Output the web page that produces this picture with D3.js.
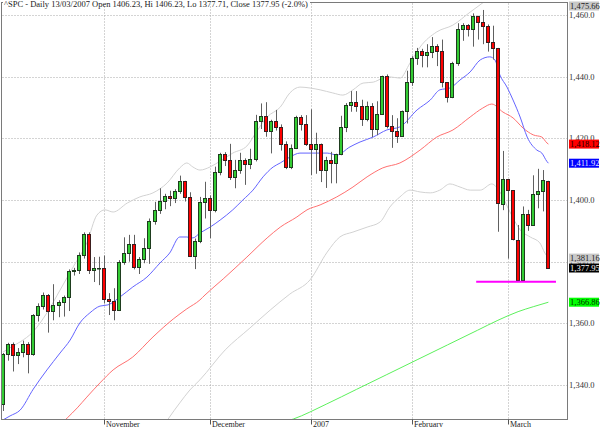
<!DOCTYPE html>
<html><head><meta charset="utf-8">
<script src="https://cdn.jsdelivr.net/npm/d3@7"></script>
<style>body{margin:0;background:#fff}svg{display:block}</style>
</head><body><svg id="c" width="600" height="427"></svg>
<script>
// ---- data ----
const title = "^SPC - Daily 13/03/2007 Open 1406.23, Hi 1406.23, Lo 1377.71, Close 1377.95 (-2.0%)";
const opens  = [1333.8,1350.2,1353.2,1349.6,1350.7,1353.4,1350.0,1362.8,1365.6,1369.1,1364.1,1365.8,1367.0,1368.6,1377.0,1377.4,1382.2,1389.1,1377.3,1377.93,
1377.9,1367.8,1367.3,1364.3,1379.8,1382.8,1385.7,1378.3,1380.9,1384.4,1393.2,1396.6,1399.8,1401.2,1400.5,1402.8,1406.1,1401.0,1382.0,1386.7,1399.5,
1400.6,1396.7,1409.1,1414.8,1412.9,1407.3,1409.8,1413.0,1411.6,1413.2,1425.5,1427.1,1422.5,1425.6,1423.5,1418.3,1410.8,1416.9,1426.8,1424.7,
1418.3,1416.6,1418.3,1409.7,1412.8,1412.1,1414.9,1423.8,1430.7,1431.9,1430.6,1426.4,1430.5,1423.0,1428.0,1440.1,1423.9,1422.2,1420.6,1428.8,
1438.2,1445.9,1448.4,1447.0,1448.0,1450.0,1448.3,1438.1,1433.4,1444.3,1455.3,1456.8,1455.5,1459.7,1457.6,1456.4,1451.2,1449.3,1398.6,
1406.8,1403.2,1387.1,1374.1,1395.4,1392.0,1401.9,1402.8,1406.23];
const highs  = [1350.4,1353.7,1353.8,1352.0,1354.4,1353.9,1363.0,1366.5,1370.0,1369.5,1372.7,1367.5,1369.0,1377.5,1378.0,1383.0,1389.5,1389.5,1381.5,1381.6,
1382.0,1369.8,1371.4,1380.5,1387.9,1388.7,1388.7,1381.5,1387.6,1394.0,1399.4,1403.8,1402.0,1403.0,1403.5,1407.9,1406.2,1402.5,1387.5,1401.0,1405.9,
1401.5,1410.8,1415.3,1415.5,1418.2,1413.0,1415.3,1413.5,1416.6,1427.6,1431.3,1431.7,1426.0,1429.2,1424.5,1419.0,1418.0,1427.3,1427.5,1427.5,
1429.4,1421.8,1418.3,1414.0,1415.6,1415.0,1427.3,1431.4,1435.3,1435.3,1432.5,1431.9,1431.4,1432.0,1440.3,1440.7,1427.5,1426.5,1429.0,1441.9,
1446.6,1449.3,1449.0,1450.5,1452.8,1450.5,1452.0,1438.1,1444.8,1457.3,1457.3,1457.0,1460.5,1459.7,1461.6,1456.9,1456.5,1449.3,1415.9,
1406.8,1403.2,1391.9,1397.9,1396.8,1408.0,1410.1,1409.7,1406.23];
const lows   = [1331.6,1347.9,1344.4,1346.8,1349.0,1343.8,1349.5,1360.6,1364.5,1357.0,1361.0,1362.0,1362.2,1364.0,1375.5,1376.0,1381.0,1376.0,1373.4,1372.4,
1366.5,1362.7,1361.0,1364.0,1379.0,1380.0,1377.5,1376.0,1379.5,1379.3,1392.0,1395.5,1397.0,1398.0,1399.0,1402.0,1399.5,1381.5,1377.6,1386.0,1394.0,
1387.6,1396.0,1408.0,1411.0,1406.5,1403.8,1408.5,1404.9,1410.0,1412.5,1423.0,1420.5,1415.1,1422.5,1416.0,1410.0,1410.0,1416.5,1422.5,1417.5,
1408.1,1408.5,1405.8,1403.9,1405.4,1405.4,1414.5,1422.0,1428.6,1428.6,1424.0,1425.5,1420.4,1421.0,1428.0,1423.2,1416.9,1418.5,1420.5,1424.8,
1437.0,1443.8,1443.0,1443.0,1446.0,1443.4,1436.5,1431.6,1433.0,1443.5,1451.6,1453.0,1449.7,1452.0,1450.5,1448.1,1445.5,1389.7,1396.7,
1381.0,1386.9,1373.9,1374.1,1390.0,1392.0,1397.3,1396.3,1377.71];
const closes = [1350.2,1353.2,1349.6,1350.7,1353.4,1350.0,1362.8,1365.6,1369.1,1364.1,1365.8,1367.0,1368.6,1377.0,1377.4,1382.2,1389.1,1377.3,1377.9,1377.94,
1367.8,1367.3,1364.3,1379.8,1382.8,1385.7,1378.3,1380.9,1384.4,1393.2,1396.6,1399.8,1401.2,1400.5,1402.8,1406.1,1401.0,1382.0,1386.7,1399.5,1400.6,
1396.7,1409.1,1414.8,1412.9,1407.3,1409.8,1413.0,1411.6,1413.2,1425.5,1427.1,1422.5,1425.6,1423.5,1418.3,1410.8,1416.9,1426.8,1424.7,1418.3,
1416.6,1418.3,1409.7,1412.8,1412.1,1414.9,1423.8,1430.7,1431.9,1430.6,1426.4,1430.5,1423.0,1428.0,1440.1,1423.9,1422.2,1420.6,1428.8,1438.2,
1445.9,1448.4,1447.0,1448.0,1450.0,1448.3,1438.1,1433.4,1444.3,1455.3,1456.8,1455.5,1459.7,1457.6,1456.4,1451.2,1449.4,1399.0,1406.8,
1403.2,1387.2,1374.1,1395.4,1392.0,1401.9,1402.8,1406.6,1377.95];

const monthTickIdx = [20, 41, 61, 81, 100];
const monthLabels  = ["November", "December", "2007", "February", "March"];
const yTicks = [1340, 1360, 1380, 1400, 1420, 1440, 1460];

// 20-day average (blue)
const ma20Idx = [0,1.4,3.4,6,8.7,11.3,13.3,15.2,17.2,19.2,20.8,23.2,25.7,28.5,31.1,33,35,36.4,37.6,39,41,43,45.5,47.5,49.5,51.5,53.5,54.9,56.8,58.8,61.4,64.2,66.1,68.7,70.7,73.3,76,78.6,82,84.6,86.5,88.5,90.5,92.5,94.5,96.4,97.4,98.4,99.8,101,102.4,103.8,105.7,106.7,107.7,108];
const ma20Val = [1328.7,1330,1331.9,1338.7,1344.9,1350.4,1354.6,1360.1,1363.4,1365.6,1366,1368.6,1371.8,1375,1379.6,1382.8,1388,1388,1387.7,1389.3,1391.2,1393.5,1396.8,1400,1403.2,1407.5,1410.7,1412,1413.9,1415.2,1415.2,1415.2,1414.6,1417.2,1418.8,1420.4,1422.7,1423.7,1429.2,1432.4,1435.7,1436.3,1438.9,1441.5,1445.4,1446.4,1445.4,1440.5,1436.6,1432.4,1426.9,1420.4,1416.2,1415.2,1412.5,1411.92];
// 50-day average (red)
const ma50Idx = [10,12.7,14.7,16.6,19.2,21.8,25.7,29.7,33.7,36.4,39,40,43.6,48.3,52.3,54.9,58.2,60.2,62.8,66.1,69.3,72.1,75.2,78.6,82.6,85.9,89.1,92.5,95,96.8,99,101,103,105,106.7,107.7,108];
const ma50Val = [1325,1329.3,1332.6,1336.1,1340.7,1344.9,1349.1,1355.6,1361.4,1364.7,1367.6,1369.2,1374.4,1381.5,1387.7,1391.2,1394.5,1396.8,1398.4,1401,1404.2,1407.5,1410.4,1412,1416.2,1420.4,1422.7,1426.9,1429.8,1431.1,1428.5,1426.6,1423.3,1421.1,1420.4,1418.5,1418.12];
// 200-day average (green)
const ma200Idx = [56,57.5,64,70,76,82,88,94,98,102,105,108];
const ma200Val = [1328.2,1329.0,1333.8,1338.6,1343.4,1348.2,1353.0,1357.8,1361.0,1363.8,1365.4,1366.86];
// Bollinger bands (grey)
const bbUpIdx = [0,2,3.4,5.9,8.7,11.3,13.9,16.6,18.6,20.2,21.8,24.6,27.1,29.7,32.5,35,36.4,37.6,39,41,43,45.5,48.3,50.3,52.3,54.9,56.8,58.8,60.8,62.8,65.3,67.3,69.3,71.3,73.3,75.2,76.6,78.6,80.6,82.6,85.9,89.1,92.5,95,96.4,100,104,108];
const bbUpVal = [1350.7,1352.7,1354.0,1357.2,1363.4,1370.8,1378.3,1386.1,1395.1,1396.8,1396.1,1399.0,1401.0,1402.3,1405.5,1410.4,1412.0,1410.7,1409.7,1410.7,1412.6,1415.2,1417.5,1422.4,1426.9,1430.1,1434.7,1436.6,1436.3,1435.7,1434.7,1434.0,1435.7,1437.9,1438.2,1439.5,1439.9,1439.5,1444.4,1449.6,1454.5,1456.7,1460.9,1463.9,1465.5,1472,1477,1475.66];
const bbLoIdx = [30,32.7,35,37,39,44,48.9,52.9,56.8,60.8,64.2,66.7,69.3,72.1,74.7,76.6,78.6,80.6,82.6,84.6,86.5,88.5,90.5,92.5,94.5,96.8,98.4,100.4,102.4,104.4,106.3,107.3,108];
const bbLoVal = [1322,1329.0,1334.2,1338.4,1341.7,1351.4,1358.5,1364.3,1369.5,1374.1,1383.1,1388.0,1389.6,1391.2,1392.9,1397.7,1401.0,1403.2,1402.6,1402.3,1403.2,1405.2,1404.2,1403.2,1403.2,1405.2,1402.6,1396.1,1390.3,1388.0,1386.1,1382.8,1381.16];
// support line (magenta)
const supportLevel = 1373.5;
const supportFrom = 93.7, supportTo = 109.5;
// last-value tags on the right axis
const tagValues = [1475.66, 1418.12, 1411.92, 1381.16, 1377.95, 1366.86];
const tagFills  = ["#c8c8c8", "#ff0000", "#0000ff", "#c8c8c8", "#000000", "#00ff00"];
const tagInk    = ["#222", "#220000", "#e8e8ff", "#222", "#ffffff", "#003300"];

// ---- layout ----
const L = 1.5, R = 567.5, T = 2.5, B = 419.5;
const svg = d3.select("#c");
const x = d3.scaleLinear().domain([0, 108]).range([3, 548.4]);
const y = d3.scaleLinear().domain([1329.0, 1464.18]).range([419, 2]);
const font = "'Liberation Serif', 'Times New Roman', serif";

svg.append("defs").append("clipPath").attr("id", "plot")
  .append("rect").attr("x", L).attr("y", T).attr("width", R - L).attr("height", B - T);

// grid
const grid = svg.append("g").attr("stroke", "#a8a8a8").attr("stroke-dasharray", "1,2").attr("stroke-width", 1);
yTicks.forEach(v => {
  const yy = Math.round(y(v)) + 0.5;
  grid.append("line").attr("x1", L + 1).attr("x2", R).attr("y1", yy).attr("y2", yy);
});
monthTickIdx.forEach(i => {
  const xx = Math.round(x(i)) + 0.5;
  grid.append("line").attr("x1", xx).attr("x2", xx).attr("y1", T + 1).attr("y2", B);
});

// lines
const plot = svg.append("g").attr("clip-path", "url(#plot)");
function drawLine(idx, vals, color, w) {
  const pts = idx.map((d, k) => [x(d), y(vals[k])]);
  plot.append("path").attr("d", d3.line().curve(d3.curveMonotoneX)(pts))
    .attr("fill", "none").attr("stroke", color).attr("stroke-width", w);
}
drawLine(bbUpIdx, bbUpVal, "#d2d2d2", 1);
drawLine(bbLoIdx, bbLoVal, "#d2d2d2", 1);
drawLine(ma200Idx, ma200Val, "#5cf05c", 1);
drawLine(ma50Idx, ma50Val, "#ff7070", 1);
drawLine(ma20Idx, ma20Val, "#6464ff", 1);

// candles
closes.forEach((c, i) => {
  const cx = Math.round(x(i)) + 0.5;
  plot.append("line").attr("x1", cx).attr("x2", cx)
    .attr("y1", y(highs[i])).attr("y2", y(lows[i]))
    .attr("stroke", "#606060").attr("stroke-width", 1);
});
closes.forEach((c, i) => {
  const cx = Math.round(x(i));
  const o = opens[i];
  const up = c >= o;
  const top = Math.round(y(Math.max(o, c))) + 0.5;
  const bot = Math.round(y(Math.min(o, c))) + 0.5;
  plot.append("rect").attr("x", cx - 1.5).attr("y", top)
    .attr("width", 3).attr("height", Math.max(bot - top, 0.5))
    .attr("fill", up ? "#33cc33" : "#ff0000")
    .attr("stroke", up ? "#1e3c1e" : "#3c1e1e").attr("stroke-width", 1);
});

// support line
plot.append("line").attr("x1", x(supportFrom)).attr("x2", x(supportTo))
  .attr("y1", y(supportLevel)).attr("y2", y(supportLevel))
  .attr("stroke", "#ff00ff").attr("stroke-width", 2);

// frame
svg.append("rect").attr("x", L).attr("y", T).attr("width", R - L).attr("height", B - T)
  .attr("fill", "none").attr("stroke", "#7a7a7a").attr("stroke-width", 1);

// x axis ticks and labels
monthTickIdx.forEach((i, k) => {
  const xx = Math.round(x(i)) + 0.5;
  svg.append("line").attr("x1", xx).attr("x2", xx).attr("y1", B).attr("y2", B + 5)
    .attr("stroke", "#555");
  svg.append("text").attr("x", xx + 1.5).attr("y", 426.5).text(monthLabels[k])
    .attr("font-family", font).attr("font-size", 8).attr("fill", "#222");
});

// y axis labels
const fmt1 = d3.format(",.1f"), fmt2 = d3.format(",.2f");
yTicks.forEach(v => {
  svg.append("text").attr("x", 569).attr("y", y(v) + 3).text(fmt1(v))
    .attr("font-family", font).attr("font-size", 8.5).attr("fill", "#333");
});

// value tags
tagValues.forEach((v, k) => {
  const cy = Math.max(6, y(v));
  svg.append("rect").attr("x", 569).attr("y", cy - 4.5).attr("width", 30).attr("height", 9)
    .attr("fill", tagFills[k]);
  svg.append("text").attr("x", 570).attr("y", cy + 3).text(fmt2(v))
    .attr("font-family", font).attr("font-size", 8.5).attr("fill", tagInk[k]);
});

// title breaking the top border
const t = svg.append("text").attr("x", 4).attr("y", 6.5).text(title)
  .attr("font-family", font).attr("font-size", 8.5).attr("fill", "#222");
const bb = t.node().getBBox();
svg.insert("rect", "text").attr("x", bb.x - 1).attr("y", 0).attr("width", bb.width + 3).attr("height", 4.5).attr("fill", "#fff");
t.raise();
</script></body></html>
